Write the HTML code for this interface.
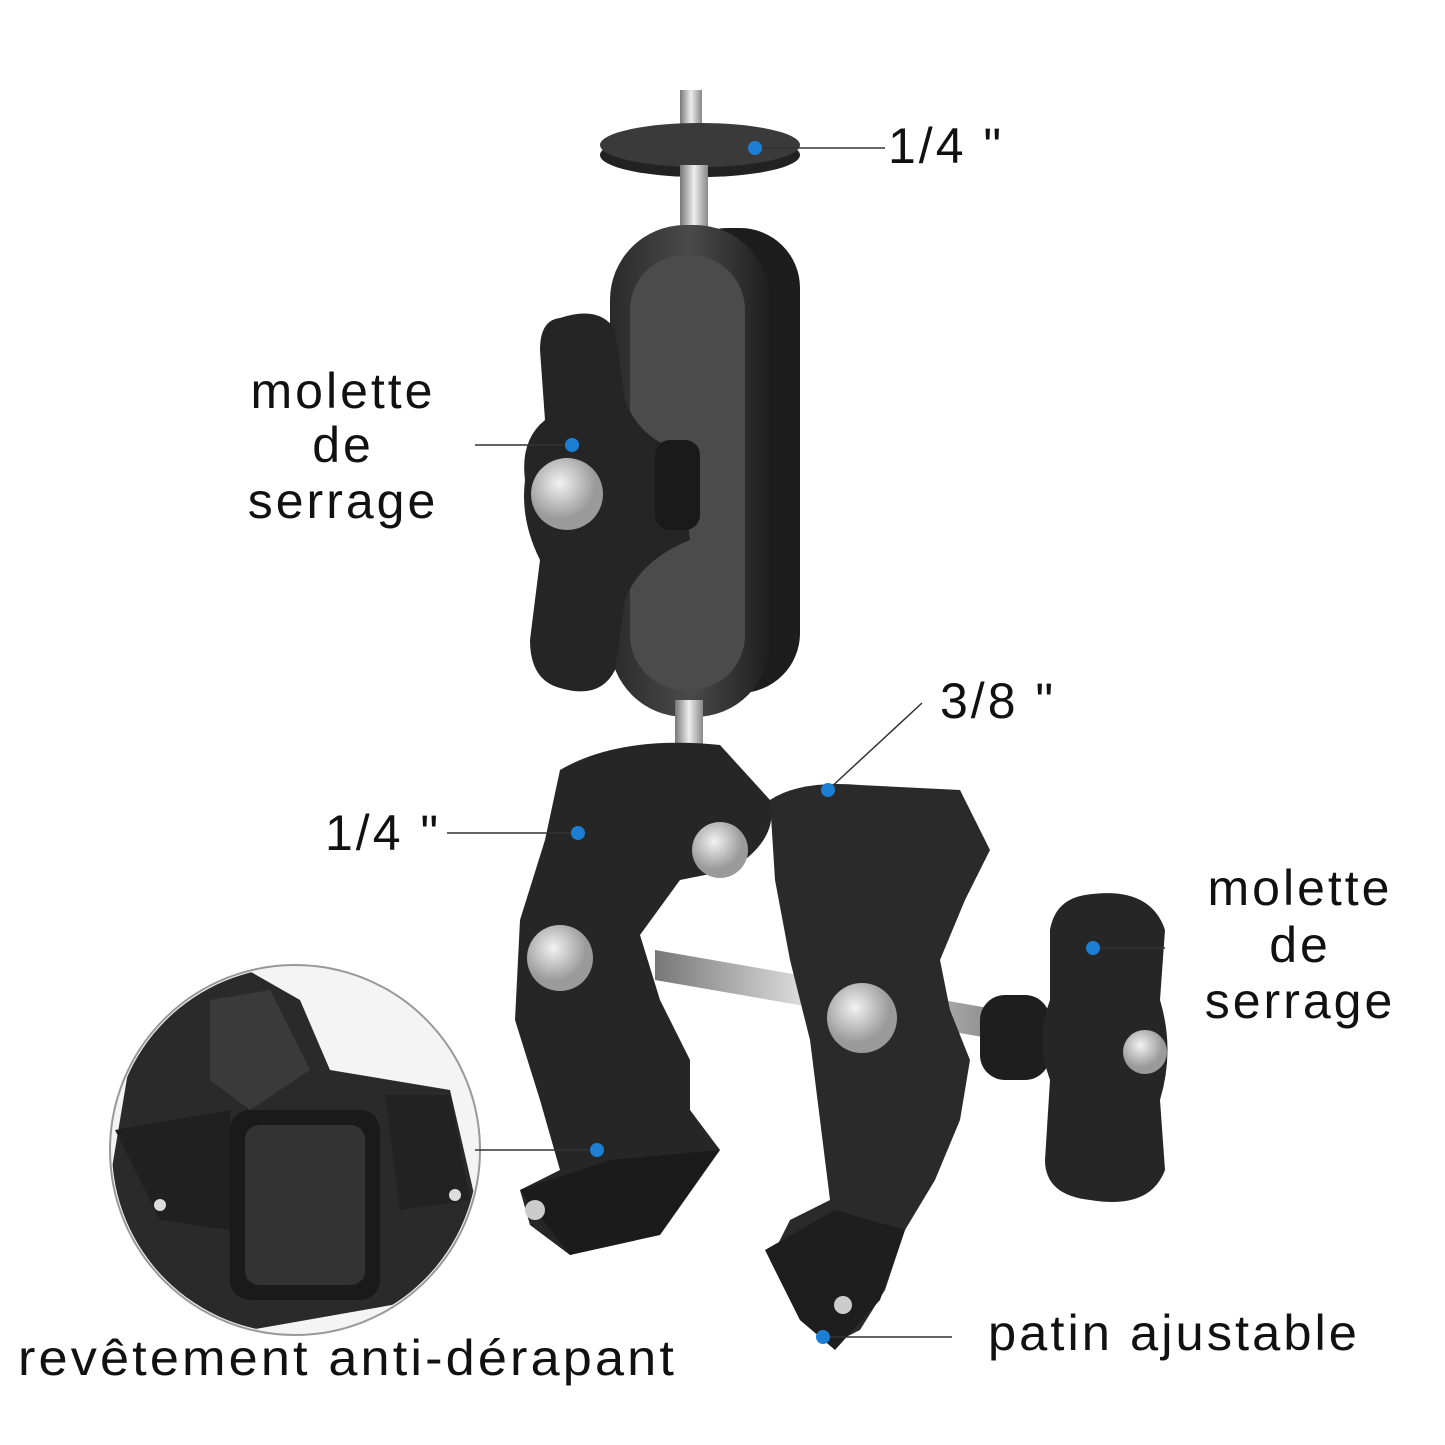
<!DOCTYPE html>
<html><head><meta charset="utf-8"><style>
html,body{margin:0;padding:0;background:#fff;}
svg{display:block;}
text{font-family:"Liberation Sans",sans-serif;fill:#111;}
</style></head><body>
<svg width="1445" height="1445" viewBox="0 0 1445 1445" xmlns="http://www.w3.org/2000/svg">
<defs>
<linearGradient id="metal" x1="0" x2="1"><stop offset="0" stop-color="#777"/><stop offset=".5" stop-color="#eee"/><stop offset="1" stop-color="#888"/></linearGradient>
<radialGradient id="btn" cx=".4" cy=".35"><stop offset="0" stop-color="#f2f2f2"/><stop offset="1" stop-color="#9a9a9a"/></radialGradient>
<linearGradient id="dark" x1="0" x2="1"><stop offset="0" stop-color="#2a2a2a"/><stop offset=".5" stop-color="#4a4a4a"/><stop offset="1" stop-color="#1e1e1e"/></linearGradient>
<clipPath id="cc"><circle cx="295" cy="1150" r="183"/></clipPath>
</defs>
<rect width="1445" height="1445" fill="#fff"/>

<rect x="680" y="90" width="22" height="40" fill="url(#metal)"/>
<ellipse cx="700" cy="155" rx="100" ry="22" fill="#222"/>
<ellipse cx="700" cy="145" rx="100" ry="22" fill="#3a3a3a"/>
<rect x="680" y="165" width="28" height="75" fill="url(#metal)"/>
<rect x="668" y="228" width="132" height="465" rx="60" fill="#1d1d1d"/>
<rect x="610" y="225" width="160" height="492" rx="75" fill="url(#dark)"/>
<rect x="630" y="255" width="115" height="435" rx="55" fill="#4b4b4b"/>
<path d="M560 318 Q600 305 615 330 L625 400 Q640 440 680 450 L690 540 Q640 560 625 600 L615 670 Q600 700 560 688 Q530 680 530 640 L540 560 Q520 520 525 480 Q520 440 545 420 L540 350 Q540 320 560 318Z" fill="#252525"/>
<rect x="655" y="440" width="45" height="90" rx="15" fill="#1a1a1a"/>
<circle cx="567" cy="494" r="36" fill="url(#btn)"/>
<rect x="675" y="700" width="28" height="75" fill="url(#metal)"/>
<ellipse cx="690" cy="775" rx="45" ry="12" fill="#aaa"/>

<path d="M560 770 Q620 735 720 745 L770 800 Q780 840 730 870 L680 880 L640 935 L660 1000 L690 1060 L690 1110 L720 1150 L660 1230 L570 1255 L530 1225 L520 1190 L560 1170 L540 1100 L515 1020 L520 920 L545 840Z" fill="#262626"/>
<path d="M520 1190 L610 1160 L720 1150 L660 1235 L570 1255Z" fill="#1b1b1b"/>
<circle cx="720" cy="850" r="28" fill="url(#btn)"/>
<circle cx="560" cy="958" r="33" fill="url(#btn)"/>
<circle cx="535" cy="1210" r="10" fill="#ccc"/>
<polygon points="655,950 1000,1010 1000,1040 655,980" fill="url(#metal)"/>
<path d="M770 800 Q800 780 860 785 L960 790 L990 850 L965 900 L940 960 L950 1010 L970 1060 L960 1120 L935 1180 L905 1230 L885 1290 L860 1330 L830 1345 L800 1320 L770 1260 L790 1220 L830 1200 L820 1120 L810 1040 L790 960 L775 880Z" fill="#2a2a2a"/>
<path d="M765 1250 L835 1210 L905 1230 L880 1300 L835 1350 L800 1320Z" fill="#1e1e1e"/>
<circle cx="862" cy="1018" r="35" fill="url(#btn)"/>
<circle cx="843" cy="1305" r="9" fill="#ccc"/>
<rect x="980" y="995" width="70" height="85" rx="25" fill="#1e1e1e"/>
<path d="M1085 895 Q1150 885 1165 930 L1160 1000 Q1175 1050 1160 1100 L1165 1170 Q1150 1210 1090 1200 Q1045 1195 1045 1160 L1050 1080 Q1035 1040 1050 1000 L1050 930 Q1055 900 1085 895Z" fill="#262626"/>
<circle cx="1145" cy="1052" r="22" fill="url(#btn)"/>

<circle cx="295" cy="1150" r="185" fill="#f4f4f4" stroke="#999" stroke-width="2"/>
<g clip-path="url(#cc)">
<path d="M150 980 L230 960 L300 1000 L330 1070 L450 1090 L480 1220 L420 1300 L250 1330 L150 1300 L110 1180 L130 1060Z" fill="#2a2a2a"/>
<path d="M210 1000 L270 990 L310 1070 L250 1110 L210 1080Z" fill="#3a3a3a"/>
<rect x="230" y="1110" width="150" height="190" rx="20" fill="#1a1a1a"/>
<rect x="245" y="1125" width="120" height="160" rx="14" fill="#333"/>
<path d="M115 1130 L230 1110 L230 1230 L160 1220Z" fill="#202020"/>
<path d="M385 1095 L450 1095 L470 1200 L400 1210Z" fill="#222"/>
<circle cx="160" cy="1205" r="6" fill="#ddd"/>
<circle cx="455" cy="1195" r="6" fill="#ddd"/>
</g>

<g stroke="#333" stroke-width="1.5" fill="none">
<line x1="755" y1="148" x2="885" y2="148"/>
<line x1="475" y1="445" x2="572" y2="445"/>
<line x1="828" y1="790" x2="922" y2="703"/>
<line x1="447" y1="833" x2="578" y2="833"/>
<line x1="1093" y1="948" x2="1165" y2="948"/>
<line x1="475" y1="1150" x2="597" y2="1150"/>
<line x1="823" y1="1337" x2="952" y2="1337"/>
</g>
<g fill="#1c7fd4">
<circle cx="755" cy="148" r="7"/><circle cx="572" cy="445" r="7"/><circle cx="828" cy="790" r="7"/>
<circle cx="578" cy="833" r="7"/><circle cx="1093" cy="948" r="7"/><circle cx="597" cy="1150" r="7"/><circle cx="823" cy="1337" r="7"/>
</g>

<g font-size="50" letter-spacing="3">
<text x="888" y="163">1/4 "</text>
<text x="343" y="408" text-anchor="middle">molette</text>
<text x="343" y="462" text-anchor="middle">de</text>
<text x="343" y="518" text-anchor="middle">serrage</text>
<text x="940" y="718">3/8 "</text>
<text x="325" y="850">1/4 "</text>
<text x="1300" y="905" text-anchor="middle">molette</text>
<text x="1300" y="962" text-anchor="middle">de</text>
<text x="1300" y="1018" text-anchor="middle">serrage</text>
<text x="18" y="1375" textLength="659" lengthAdjust="spacingAndGlyphs">revêtement anti-dérapant</text>
<text x="988" y="1350" textLength="372" lengthAdjust="spacingAndGlyphs">patin ajustable</text>
</g>
</svg>
</body></html>
